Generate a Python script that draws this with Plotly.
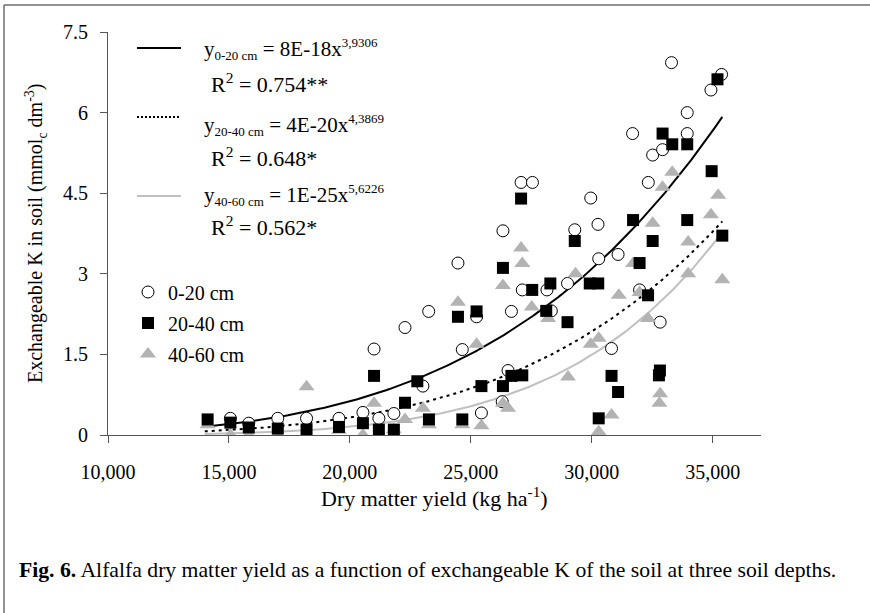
import numpy as np
import plotly.graph_objects as go

# ---------------- data ----------------
k0_20_x = [15060, 15820, 17020, 18210, 19550, 20540, 21200, 21000, 21820, 22280,
           23260, 23020, 24470, 24650, 25240, 25440, 26330, 26540, 26300, 27080,
           27550, 27130, 26680, 28150, 28330, 29000, 29300, 29960, 30260, 30290,
           31090, 31690, 31980, 32340, 32520, 32930, 32830, 30820, 33300, 33950,
           33950, 34930, 35370]
k0_20_y = [0.31, 0.22, 0.31, 0.31, 0.31, 0.42, 0.31, 1.60, 0.40, 2.00,
           2.30, 0.91, 3.20, 1.59, 2.20, 0.41, 3.80, 1.20, 0.62, 4.70,
           4.70, 2.70, 2.30, 2.70, 2.31, 2.82, 3.82, 4.41, 3.92, 3.28,
           3.36, 5.61, 2.70, 4.70, 5.21, 5.31, 2.10, 1.61, 6.93, 6.00,
           5.61, 6.42, 6.71]

k20_40_x = [14120, 15060, 15820, 17020, 18210, 19550, 20540, 21200, 21000, 21820,
            22280, 22790, 23270, 24470, 24650, 25240, 25440, 26330, 26330, 27080,
            26680, 27130, 27540, 28290, 28120, 29000, 29300, 29920, 30270, 30290,
            30820, 31090, 31710, 31980, 32330, 32520, 32820, 32780, 32930, 33330,
            33950, 33950, 34960, 35200, 35400]
k20_40_y = [0.29, 0.23, 0.14, 0.12, 0.10, 0.15, 0.22, 0.10, 1.10, 0.10,
            0.60, 1.00, 0.29, 2.20, 0.29, 2.30, 0.91, 3.11, 0.91, 4.40,
            1.10, 1.11, 2.70, 2.82, 2.31, 2.10, 3.61, 2.82, 2.82, 0.31,
            1.10, 0.80, 4.00, 3.20, 2.60, 3.61, 1.20, 1.11, 5.61, 5.41,
            5.41, 4.00, 4.91, 6.62, 3.71]

k40_60_x = [14120, 15060, 15820, 17020, 18210, 19550, 20540, 21000, 21200, 21820,
            22280, 23020, 23270, 24470, 24650, 25240, 25440, 26330, 26330, 26540,
            27080, 27130, 27520, 28200, 29020, 29330, 29960, 30290, 30290, 30820,
            31120, 31710, 31980, 32330, 32520, 32830, 32800, 32930, 33330, 33990,
            33990, 34930, 35230, 35400]
k40_60_y = [0.19, 0.00, 0.00, 0.00, 0.90, 0.09, 0.00, 0.59, 0.00, 0.10,
            0.29, 0.50, 0.19, 2.47, 0.19, 1.69, 0.17, 2.78, 0.59, 0.50,
            3.48, 3.19, 2.38, 2.17, 1.08, 3.00, 1.69, 1.80, 0.06, 0.37,
            2.60, 3.19, 2.65, 2.17, 3.94, 0.77, 0.59, 4.61, 4.89, 3.59,
            3.00, 4.10, 4.46, 2.89]

# power-law fits y = a * x^b (from the chart's equations)
fit_names = ["0-20 cm", "20-40 cm", "40-60 cm"]
fit_a = [7.8e-18, 4.4e-20, 1e-25]
fit_b = [3.9306, 4.3869, 5.6226]
fit_range = [14000, 35400]
SM = '<span style="font-size:13px">'
eq_labels = ["y<sub>" + SM + "0-20 cm</span></sub> = 8E-18x<sup>" + SM + "3,9306</span></sup>",
             "y<sub>" + SM + "20-40 cm</span></sub> = 4E-20x<sup>" + SM + "4,3869</span></sup>",
             "y<sub>" + SM + "40-60 cm</span></sub> = 1E-25x<sup>" + SM + "5,6226</span></sup>"]
r2_labels = ["R<sup>2</sup> = 0.754**", "R<sup>2</sup> = 0.648*", "R<sup>2</sup> = 0.562*"]

x_ticks = [10000, 15000, 20000, 25000, 30000, 35000]
y_ticks = [0, 1.5, 3, 4.5, 6, 7.5]
y_tick_text = ["0", "1.5", "3", "4.5", "6", "7.5"]

# ---------------- layout geometry ----------------
W, H = 870, 613
L, R, T, B = 108, 109, 32, 178
PW, PH = W - L - R, H - T - B
FONT = "Liberation Serif"


def px(X):
    return (X - L) / PW


def py(Y):
    return (H - B - Y) / PH


fig = go.Figure()

line_styles = [dict(color="black", width=2),
               dict(color="black", width=2, dash="3px,4px"),
               dict(color="#c0c0c0", width=2)]

xs = np.linspace(fit_range[0], fit_range[1], 200)
for a, b, st in zip(fit_a, fit_b, line_styles):
    fig.add_trace(go.Scatter(x=xs, y=a * xs ** b, mode="lines", line=st,
                             showlegend=False, hoverinfo="skip"))

fig.add_trace(go.Scatter(x=k0_20_x, y=k0_20_y, mode="markers", name="0-20 cm",
                         legend="legend",
                         marker=dict(symbol="circle", size=12, color="white",
                                     line=dict(color="black", width=1))))
fig.add_trace(go.Scatter(x=k40_60_x, y=k40_60_y, mode="markers", name="40-60 cm",
                         legend="legend3",
                         marker=dict(symbol="triangle-up", size=14, color="#b3b3b3",
                                     line=dict(width=0))))
fig.add_trace(go.Scatter(x=k20_40_x, y=k20_40_y, mode="markers", name="20-40 cm",
                         legend="legend2",
                         marker=dict(symbol="square", size=12, color="black",
                                     line=dict(width=0))))

leg_common = dict(font=dict(family=FONT, size=20, color="black"),
                  bgcolor="rgba(0,0,0,0)", borderwidth=0,
                  xanchor="left", yanchor="middle", x=px(128))

shapes = []
annotations = []

# outer frame (top and left edges)
shapes.append(dict(type="line", xref="paper", yref="paper",
                   x0=px(4), x1=px(872), y0=py(5), y1=py(5),
                   line=dict(color="#6e6e6e", width=1.5)))
shapes.append(dict(type="line", xref="paper", yref="paper",
                   x0=px(4), x1=px(4), y0=py(5), y1=py(615),
                   line=dict(color="#6e6e6e", width=1.5)))

# equation legend: sample lines + text
sample_y = [48, 117, 196]
eq_y = [49, 125, 195]
r2_y = [83, 157, 226]
for i in range(3):
    shapes.append(dict(type="line", xref="paper", yref="paper",
                       x0=px(137), x1=px(181), y0=py(sample_y[i]), y1=py(sample_y[i]),
                       line=dict(color=line_styles[i]["color"], width=2,
                                 dash="2px,2px" if i == 1 else "solid")))
    annotations.append(dict(xref="paper", yref="paper", x=px(202), y=py(eq_y[i]),
                            xanchor="left", yanchor="middle", showarrow=False,
                            text=eq_labels[i],
                            font=dict(family=FONT, size=21, color="black")))
    annotations.append(dict(xref="paper", yref="paper", x=px(209), y=py(r2_y[i]),
                            xanchor="left", yanchor="middle", showarrow=False,
                            text=r2_labels[i],
                            font=dict(family=FONT, size=22, color="black")))

# axis titles and caption
annotations.append(dict(xref="paper", yref="paper", x=px(36), y=py(233),
                        xanchor="center", yanchor="middle", showarrow=False,
                        textangle=-90,
                        text="Exchangeable K in soil (mmol<sub>c</sub> dm<sup>-3</sup>)",
                        font=dict(family=FONT, size=20, color="black")))
annotations.append(dict(xref="paper", yref="paper", x=px(434), y=py(497),
                        xanchor="center", yanchor="middle", showarrow=False,
                        text="Dry matter yield (kg ha<sup>-1</sup>)",
                        font=dict(family=FONT, size=22, color="black")))
annotations.append(dict(xref="paper", yref="paper", x=px(17), y=py(570),
                        xanchor="left", yanchor="middle", showarrow=False,
                        text="<b>Fig. 6.</b> Alfalfa dry matter yield as a function of "
                             "exchangeable K of the soil at three soil depths.",
                        font=dict(family=FONT, size=21.7, color="black")))

fig.update_layout(
    width=W, height=H,
    margin=dict(l=L, r=R, t=T, b=B, pad=0),
    paper_bgcolor="white", plot_bgcolor="white",
    font=dict(family=FONT, size=20, color="black"),
    legend=dict(**leg_common, y=py(292)),
    legend2=dict(**leg_common, y=py(323)),
    legend3=dict(**leg_common, y=py(354)),
    shapes=shapes,
    annotations=annotations,
    xaxis=dict(range=[10000, 37000], tickvals=x_ticks, tickformat=",",
               showgrid=False, zeroline=False, showline=True,
               linecolor="#555555", linewidth=1,
               ticks="outside", ticklen=7, tickcolor="#555555",
               ticklabelstandoff=12,
               tickfont=dict(family=FONT, size=20, color="black")),
    yaxis=dict(range=[0, 7.5], tickvals=y_ticks, ticktext=y_tick_text,
               showgrid=False, zeroline=False, showline=True,
               linecolor="#555555", linewidth=1,
               ticks="outside", ticklen=7, tickcolor="#555555",
               ticklabelstandoff=8,
               tickfont=dict(family=FONT, size=20, color="black")),
)

fig.write_html("out.html")
